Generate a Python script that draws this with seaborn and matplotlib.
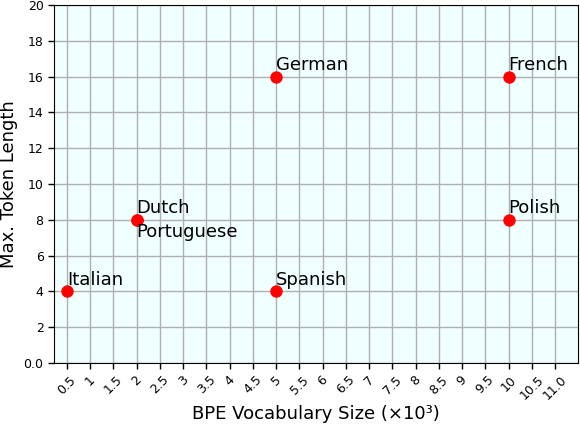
import matplotlib
matplotlib.use("Agg")
import matplotlib.pyplot as plt
import seaborn as sns
import pandas as pd

# data
languages = ["Italian", "Dutch", "Portuguese", "German", "Spanish", "French", "Polish"]
vocab_size = [0.5, 2, 2, 5, 5, 10, 10]
max_token_len = [4, 8, 8, 16, 4, 16, 8]

xtick_vals = [0.5, 1, 1.5, 2, 2.5, 3, 3.5, 4, 4.5, 5, 5.5, 6, 6.5, 7, 7.5, 8,
              8.5, 9, 9.5, 10, 10.5, 11]
xtick_labels = ["0.5", "1", "1.5", "2", "2.5", "3", "3.5", "4", "4.5", "5", "5.5",
                "6", "6.5", "7", "7.5", "8", "8.5", "9", "9.5", "10", "10.5", "11.0"]
ytick_vals = [0, 2, 4, 6, 8, 10, 12, 14, 16, 18, 20]
ytick_labels = ["0.0", "2", "4", "6", "8", "10", "12", "14", "16", "18", "20"]

df = pd.DataFrame({"lang": languages, "vocab": vocab_size, "maxlen": max_token_len})

sns.set_style("ticks")
plt.rcParams["font.family"] = ["DejaVu Sans"]
plt.rcParams["text.color"] = "black"
plt.rcParams["axes.labelcolor"] = "black"
plt.rcParams["xtick.color"] = "black"
plt.rcParams["ytick.color"] = "black"

fig, ax = plt.subplots(figsize=(5.8, 4.24), dpi=100)
fig.subplots_adjust(left=0.093, right=0.997, top=0.988, bottom=0.144)
ax.set_facecolor("#f0ffff")

sns.scatterplot(data=df, x="vocab", y="maxlen", color="red", s=80,
                edgecolor="red", linewidth=0, ax=ax, zorder=3)

for _, row in df.iterrows():
    if row["lang"] == "Portuguese":
        ax.annotate(row["lang"], (row["vocab"], row["maxlen"]), xytext=(0, -2),
                    textcoords="offset points", ha="left", va="top", fontsize=13)
    else:
        ax.annotate(row["lang"], (row["vocab"], row["maxlen"]), xytext=(0, 2),
                    textcoords="offset points", ha="left", va="bottom", fontsize=13)

ax.set_xlim(0.22, 11.5)
ax.set_ylim(0, 20)
ax.set_xticks(xtick_vals)
ax.set_xticklabels(xtick_labels, rotation=45, fontsize=9)
ax.set_yticks(ytick_vals)
ax.set_yticklabels(ytick_labels, fontsize=9)
ax.tick_params(length=4, width=1)
ax.grid(True, color="#b0b0b0", linewidth=1)
ax.set_axisbelow(True)
ax.set_xlabel("BPE Vocabulary Size (×10³)", fontsize=13, labelpad=2)
ax.set_ylabel("Max. Token Length", fontsize=13, labelpad=4)
for sp in ax.spines.values():
    sp.set_visible(True)
    sp.set_color("black")

fig.savefig("out.png", dpi=100)
